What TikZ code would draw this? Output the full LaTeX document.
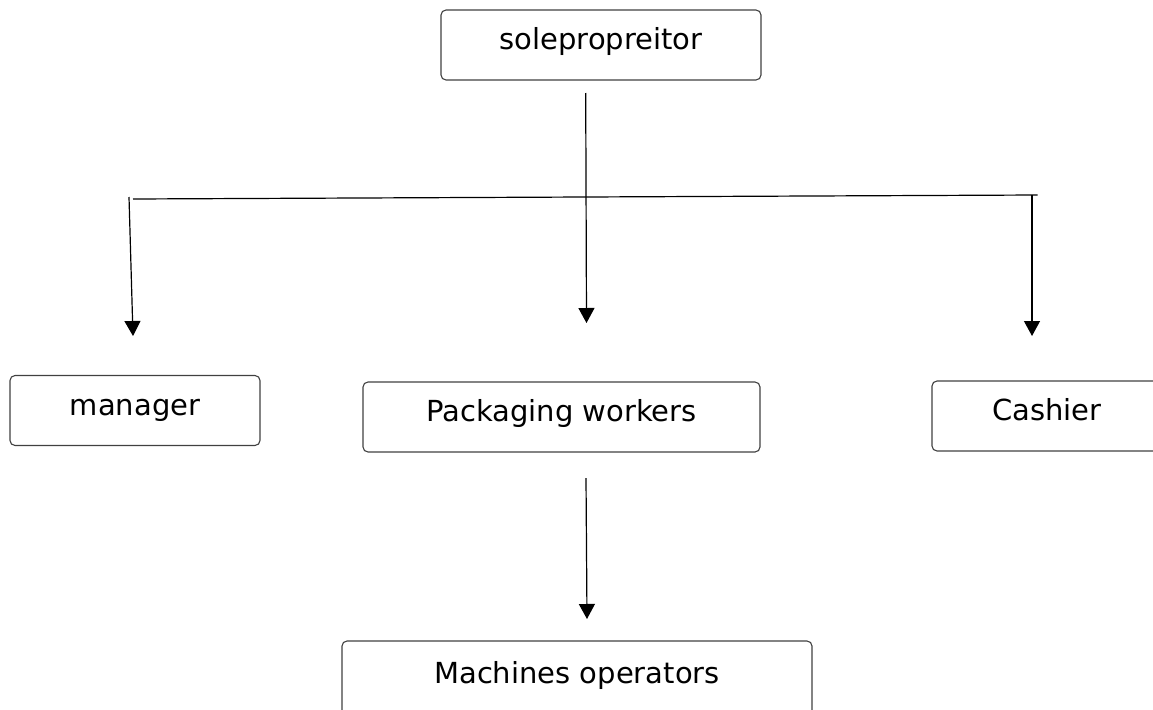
\documentclass[tikz,border=0pt]{standalone}
\usepackage{fontspec}
\setmainfont{DejaVu Sans}
\usetikzlibrary{arrows.meta}
\begin{document}
\begin{tikzpicture}[x=1pt, y=-1pt,
  box/.style={draw=black!75, line width=1.1pt, rounded corners=5pt, minimum height=70pt,
    inner sep=0pt, text height=21pt, text depth=12pt, font=\fontsize{29}{35}\selectfont},
  arr/.style={-{Triangle[width=16pt,length=15pt]}, line width=1.2pt},
  every path/.style={line width=1.2pt}]
\useasboundingbox (0,0) rectangle (1153,709);
\node[box, minimum width=320pt] (owner)   at (601,45)    {solepropreitor};
\node[box, minimum width=250pt] (manager) at (135,410.5) {manager};
\node[box, minimum width=397pt] (packing) at (561.5,417) {Packaging workers};
\node[box, minimum width=230pt] (cashier) at (1047,416)  {Cashier};
\node[box, minimum width=470pt, minimum height=76pt] (machine) at (577,679) {Machines operators};
% free ends of the connectors
\coordinate (ownerout) at (585.7,93);
\coordinate (busleft)  at (133,199);
\coordinate (busright) at (1037.7,195);
\coordinate (mantop)   at (129,197);
\coordinate (manin)    at (133,336);
\coordinate (cashtop)  at (1032,195);
\coordinate (cashin)   at (1032,336);
\coordinate (packin)   at (586.5,323);
\coordinate (packout)  at (586,478);
\coordinate (machin)   at (587,619);
\draw (busleft) -- (busright);
\draw[arr] (ownerout) -- (packin);
\draw[arr] (mantop) -- (manin);
\draw[arr] (cashtop) -- (cashin);
\draw[arr] (packout) -- (machin);
\end{tikzpicture}
\end{document}
